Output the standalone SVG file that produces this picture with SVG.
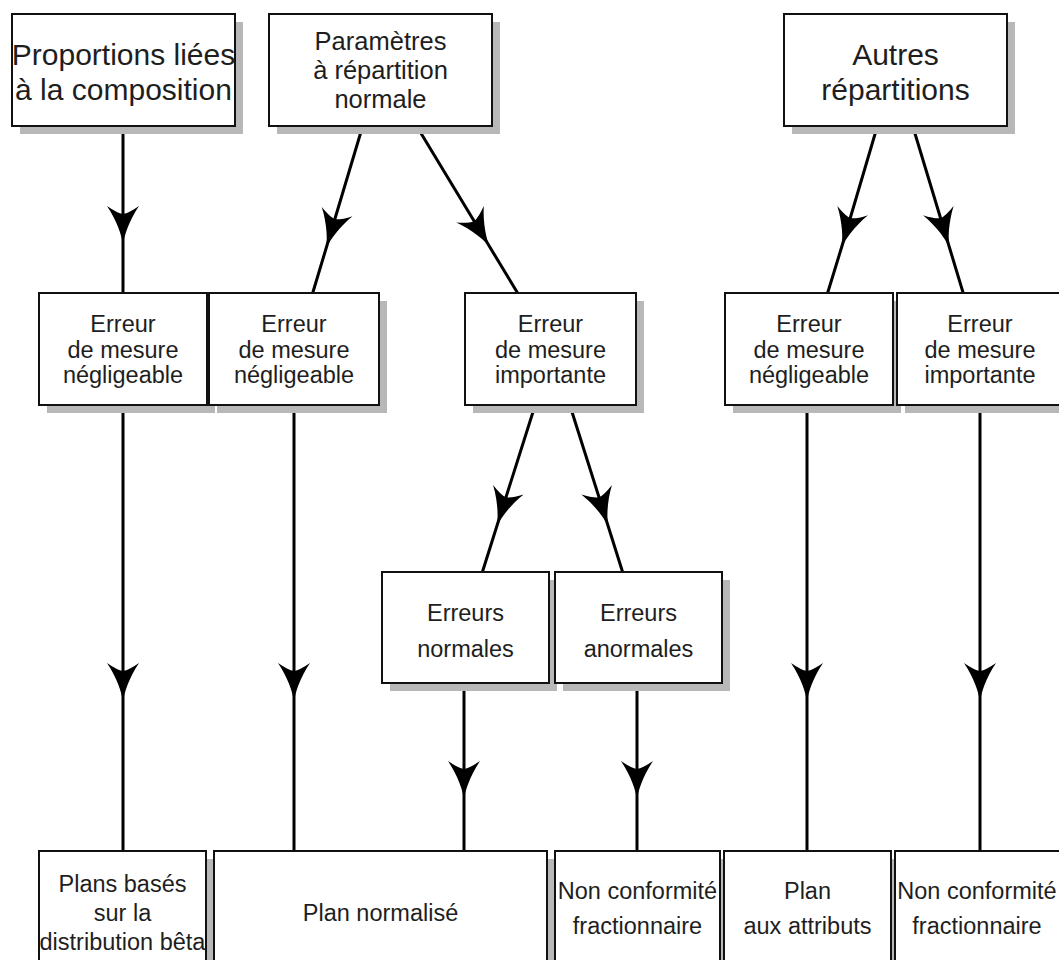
<svg xmlns="http://www.w3.org/2000/svg" width="1059" height="960" viewBox="0 0 1059 960">
<style>
.sh{fill:#b8b8b8}
.bx{fill:#fff;stroke:#111;stroke-width:2}
.t{font-family:"Liberation Sans",Arial,sans-serif;fill:#1e1e1e;text-anchor:middle}
.big{font-size:30px}
.mid{font-size:25.5px}
.sm{font-size:23.5px}
.c{fill:none;stroke:#000;stroke-width:3;marker-mid:url(#ah)}
</style>
<defs>
<marker id="ah" markerUnits="userSpaceOnUse" orient="auto" refX="0" refY="0" markerWidth="50" markerHeight="40" viewBox="-45 -20 50 40" overflow="visible">
<path d="M1,0 C-8,-1.5 -22,-6 -37,-16 Q-30,-6 -29,0 Q-30,6 -37,16 C-22,6 -8,1.5 1,0 Z" fill="#000"/>
</marker>
</defs>
<rect width="1059" height="960" fill="#fff"/>
<g id="connectors">
<path class="c" d="M123,126 L123,243 L123,293"/>
<path class="c" d="M362.7,126 L326.5,247 L312.7,293"/>
<path class="c" d="M416.6,126 L489.2,246 L517.6,293"/>
<path class="c" d="M877.4,126 L842,246 L827.6,293"/>
<path class="c" d="M912.7,126 L949,246 L963.2,293"/>
<path class="c" d="M123,405 L123,700 L123,851"/>
<path class="c" d="M294,405 L294,700 L294,851"/>
<path class="c" d="M535.2,405 L497.2,525 L482.4,572"/>
<path class="c" d="M569.8,405 L607.8,525 L622.6,572"/>
<path class="c" d="M464,683 L464,798 L464,851"/>
<path class="c" d="M637,683 L637,798 L637,851"/>
<path class="c" d="M807,405 L807,700 L807,851"/>
<path class="c" d="M980,405 L980,700 L980,851"/>
</g>
<g id="shadows">
<rect class="sh" x="20" y="22" width="223" height="112"/>
<rect class="sh" x="277" y="22" width="223" height="112"/>
<rect class="sh" x="792" y="22" width="223" height="112"/>
<rect class="sh" x="47" y="301" width="168" height="112"/>
<rect class="sh" x="217" y="301" width="170" height="112"/>
<rect class="sh" x="473" y="301" width="171" height="112"/>
<rect class="sh" x="733" y="301" width="168" height="112"/>
<rect class="sh" x="905" y="301" width="166" height="112"/>
<rect class="sh" x="390" y="580" width="167" height="111"/>
<rect class="sh" x="563" y="580" width="167" height="111"/>
<rect class="sh" x="47" y="859" width="167" height="120"/>
<rect class="sh" x="222" y="859" width="333" height="120"/>
<rect class="sh" x="563" y="859" width="165" height="120"/>
<rect class="sh" x="732" y="859" width="167" height="120"/>
<rect class="sh" x="903" y="859" width="170" height="120"/>
</g>
<g id="n-proportions">
<rect class="bx" x="12" y="14" width="223" height="112"/>
<text class="t big" x="123.5" y="65">Proportions liées</text>
<text class="t big" x="123.5" y="100">à la composition</text>
</g>
<g id="n-parametres">
<rect class="bx" x="269" y="14" width="223" height="112"/>
<text class="t mid" x="380.5" y="50">Paramètres</text>
<text class="t mid" x="380.5" y="79">à répartition</text>
<text class="t mid" x="380.5" y="108">normale</text>
</g>
<g id="n-autres">
<rect class="bx" x="784" y="14" width="223" height="112"/>
<text class="t big" x="895.5" y="65">Autres</text>
<text class="t big" x="895.5" y="100">répartitions</text>
</g>
<g id="n-err1">
<rect class="bx" x="39" y="293" width="168" height="112"/>
<text class="t sm" x="123" y="332">Erreur</text>
<text class="t sm" x="123" y="357.5">de mesure</text>
<text class="t sm" x="123" y="383">négligeable</text>
</g>
<g id="n-err2">
<rect class="bx" x="209" y="293" width="170" height="112"/>
<text class="t sm" x="294" y="332">Erreur</text>
<text class="t sm" x="294" y="357.5">de mesure</text>
<text class="t sm" x="294" y="383">négligeable</text>
</g>
<g id="n-err3">
<rect class="bx" x="465" y="293" width="171" height="112"/>
<text class="t sm" x="550.5" y="332">Erreur</text>
<text class="t sm" x="550.5" y="357.5">de mesure</text>
<text class="t sm" x="550.5" y="383">importante</text>
</g>
<g id="n-err4">
<rect class="bx" x="725" y="293" width="168" height="112"/>
<text class="t sm" x="809" y="332">Erreur</text>
<text class="t sm" x="809" y="357.5">de mesure</text>
<text class="t sm" x="809" y="383">négligeable</text>
</g>
<g id="n-err5">
<rect class="bx" x="897" y="293" width="166" height="112"/>
<text class="t sm" x="980" y="332">Erreur</text>
<text class="t sm" x="980" y="357.5">de mesure</text>
<text class="t sm" x="980" y="383">importante</text>
</g>
<g id="n-normales">
<rect class="bx" x="382" y="572" width="167" height="111"/>
<text class="t sm" x="465.5" y="621">Erreurs</text>
<text class="t sm" x="465.5" y="657">normales</text>
</g>
<g id="n-anormales">
<rect class="bx" x="555" y="572" width="167" height="111"/>
<text class="t sm" x="638.5" y="621">Erreurs</text>
<text class="t sm" x="638.5" y="657">anormales</text>
</g>
<g id="n-beta">
<rect class="bx" x="39" y="851" width="167" height="120"/>
<text class="t sm" x="122.5" y="892">Plans basés</text>
<text class="t sm" x="122.5" y="921">sur la</text>
<text class="t sm" x="122.5" y="950">distribution bêta</text>
</g>
<g id="n-plan-normalise">
<rect class="bx" x="214" y="851" width="333" height="120"/>
<text class="t sm" x="380.5" y="921">Plan normalisé</text>
</g>
<g id="n-nc1">
<rect class="bx" x="555" y="851" width="165" height="120"/>
<text class="t sm" x="637.5" y="899">Non conformité</text>
<text class="t sm" x="637.5" y="934">fractionnaire</text>
</g>
<g id="n-attributs">
<rect class="bx" x="724" y="851" width="167" height="120"/>
<text class="t sm" x="807.5" y="899">Plan</text>
<text class="t sm" x="807.5" y="934">aux attributs</text>
</g>
<g id="n-nc2">
<rect class="bx" x="895" y="851" width="170" height="120"/>
<text class="t sm" x="977" y="899">Non conformité</text>
<text class="t sm" x="977" y="934">fractionnaire</text>
</g>
</svg>
